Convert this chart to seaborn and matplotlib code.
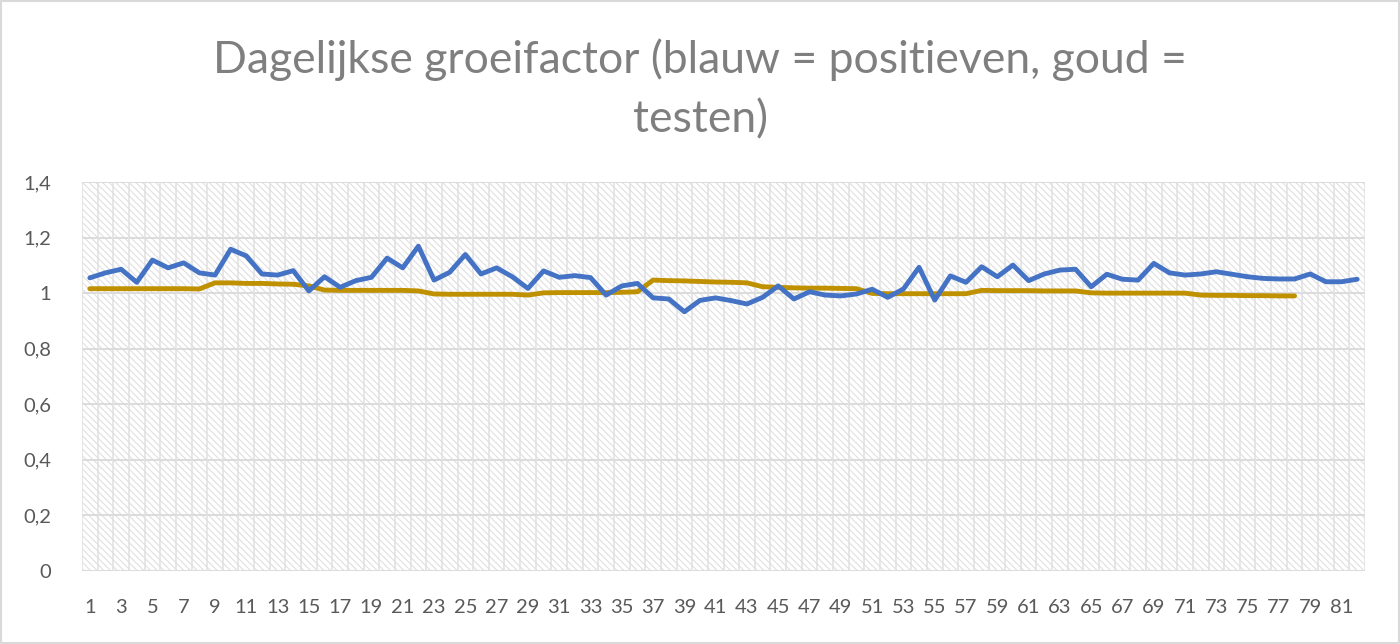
import numpy as np
import pandas as pd
import seaborn as sns
import matplotlib
matplotlib.use("Agg")
import matplotlib.pyplot as plt
from matplotlib.patches import Rectangle

title = "Dagelijkse groeifactor (blauw = positieven, goud =\ntesten)"

positieven = [
    1.055, 1.073, 1.086, 1.039, 1.119, 1.091, 1.109, 1.073, 1.065, 1.158,
    1.134, 1.069, 1.065, 1.081, 1.008, 1.059, 1.021, 1.045, 1.057, 1.126,
    1.091, 1.169, 1.047, 1.075, 1.139, 1.069, 1.091, 1.059, 1.017, 1.080,
    1.057, 1.063, 1.056, 0.993, 1.026, 1.035, 0.983, 0.979, 0.933, 0.974,
    0.983, 0.973, 0.961, 0.985, 1.026, 0.979, 1.005, 0.993, 0.990, 0.997,
    1.014, 0.985, 1.015, 1.093, 0.975, 1.062, 1.039, 1.095, 1.059, 1.101,
    1.045, 1.069, 1.083, 1.086, 1.023, 1.068, 1.050, 1.047, 1.107, 1.073,
    1.065, 1.069, 1.077, 1.068, 1.059, 1.053, 1.051, 1.051, 1.069, 1.041,
    1.041, 1.050,
]

testen = [
    1.016, 1.016, 1.016, 1.016, 1.016, 1.016, 1.016, 1.015, 1.037, 1.037,
    1.035, 1.035, 1.033, 1.032, 1.026, 1.011, 1.010, 1.010, 1.010, 1.010,
    1.010, 1.008, 0.997, 0.996, 0.996, 0.996, 0.996, 0.996, 0.993, 1.001,
    1.002, 1.002, 1.002, 1.002, 1.003, 1.005, 1.047, 1.045, 1.044, 1.042,
    1.040, 1.039, 1.037, 1.023, 1.021, 1.019, 1.018, 1.018, 1.017, 1.016,
    0.999, 0.998, 0.998, 0.998, 0.998, 0.998, 0.998, 1.010, 1.009, 1.009,
    1.009, 1.008, 1.008, 1.008, 1.001, 1.000, 1.000, 1.000, 1.000, 1.000,
    1.000, 0.993, 0.992, 0.992, 0.991, 0.991, 0.990, 0.990,
]

y_ticks = [0, 0.2, 0.4, 0.6, 0.8, 1.0, 1.2, 1.4]
y_labels = ["0", "0,2", "0,4", "0,6", "0,8", "1", "1,2", "1,4"]

df_pos = pd.DataFrame({"dag": np.arange(1, len(positieven) + 1), "factor": positieven})
df_test = pd.DataFrame({"dag": np.arange(1, len(testen) + 1), "factor": testen})

sns.set_theme(style="white")
plt.rcParams["font.family"] = ["Lato", "DejaVu Sans"]

fig = plt.figure(figsize=(14, 6.44), dpi=100)
ax = fig.add_axes([82 / 1400, 73 / 644, (1365 - 82) / 1400, (571 - 182) / 644])

n = len(positieven)
ax.set_xlim(0.5, n + 0.5)
ax.set_ylim(0, 1.4)

# hatched background
ax.set_facecolor("white")
plt.rcParams["hatch.color"] = "#e0e0e0"
plt.rcParams["hatch.linewidth"] = 0.8
bg = Rectangle((0, 0), 1, 1, transform=ax.transAxes, facecolor="white",
               edgecolor="#e0e0e0", hatch="\\\\\\\\\\", linewidth=0, zorder=0)
ax.add_patch(bg)

# gridlines
for yv in y_ticks:
    ax.axhline(yv, color="#d9d9d9", linewidth=1.3, zorder=1)
for k in range(1, n + 2):
    ax.axvline(k - 0.5, color="#e0e0e0", linewidth=1.1, zorder=1)

sns.lineplot(data=df_test, x="dag", y="factor", ax=ax, color="#BF9000",
             linewidth=3.5, zorder=3)
sns.lineplot(data=df_pos, x="dag", y="factor", ax=ax, color="#4472C4",
             linewidth=3.5, zorder=4)

ax.set_xticks(np.arange(1, n + 1, 2))
ax.set_xticklabels([str(v) for v in range(1, n + 1, 2)])
ax.set_yticks(y_ticks)
ax.set_yticklabels(y_labels)
ax.tick_params(axis="both", length=0, labelsize=14.5, colors="#595959")
ax.tick_params(axis="x", pad=20)
ax.tick_params(axis="y", pad=22)
ax.set_xlabel("")
ax.set_ylabel("")
for s in ax.spines.values():
    s.set_visible(False)

fig.text(0.5, 1 - 89 / 644, title, ha="center", va="center", fontsize=32,
         color="#7f7f7f", linespacing=1.55)

border = Rectangle((0.001, 0.001), 0.998, 0.997, transform=fig.transFigure,
                   fill=False, edgecolor="#d9d9d9", linewidth=1.5)
fig.patches.append(border)

fig.savefig("out.png", dpi=100)
